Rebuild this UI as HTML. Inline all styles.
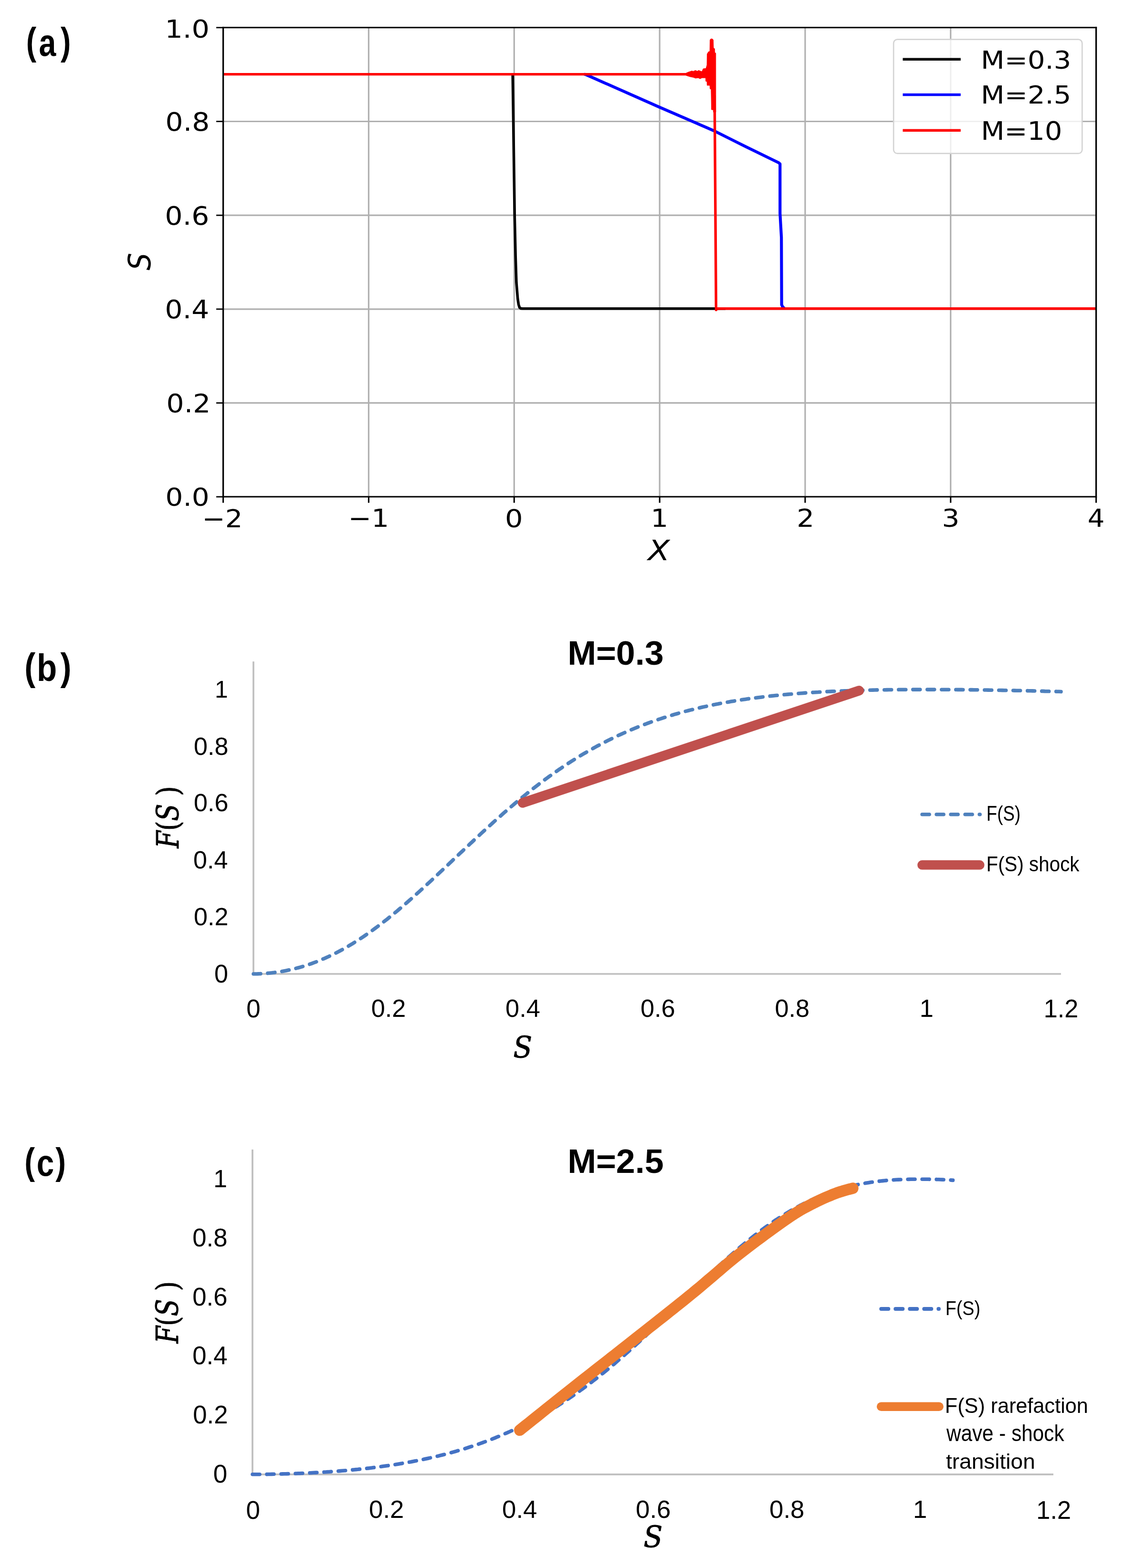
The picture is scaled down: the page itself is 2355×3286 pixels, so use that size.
<!DOCTYPE html><html><head><meta charset="utf-8"><title>Figure</title><style>html,body{margin:0;padding:0;background:#fff}svg{display:block}</style></head><body><svg width="2355" height="3286" viewBox="0 0 2355 3286">
<rect width="2355" height="3286" fill="#fff"/>
<line x1="772.43" y1="57.85" x2="772.43" y2="1041.1" stroke="#b0b0b0" stroke-width="3.2"/><line x1="1077.27" y1="57.85" x2="1077.27" y2="1041.1" stroke="#b0b0b0" stroke-width="3.2"/><line x1="1382.10" y1="57.85" x2="1382.10" y2="1041.1" stroke="#b0b0b0" stroke-width="3.2"/><line x1="1686.93" y1="57.85" x2="1686.93" y2="1041.1" stroke="#b0b0b0" stroke-width="3.2"/><line x1="1991.77" y1="57.85" x2="1991.77" y2="1041.1" stroke="#b0b0b0" stroke-width="3.2"/><line x1="467.6" y1="844.45" x2="2296.6" y2="844.45" stroke="#b0b0b0" stroke-width="3.2"/><line x1="467.6" y1="647.80" x2="2296.6" y2="647.80" stroke="#b0b0b0" stroke-width="3.2"/><line x1="467.6" y1="451.15" x2="2296.6" y2="451.15" stroke="#b0b0b0" stroke-width="3.2"/><line x1="467.6" y1="254.50" x2="2296.6" y2="254.50" stroke="#b0b0b0" stroke-width="3.2"/>
<path d="M1074.2,156.6 L1075.1,220.0 L1077.8,420.0 L1078.2,450.7 L1080.1,535.0 L1081.9,592.0 L1084.7,626.0 L1086.5,638.0 L1088.5,644.3 L1091.0,646.4 L1095.0,646.8 L1520.0,646.8" fill="none" stroke="#000" stroke-width="5.6" stroke-linejoin="round"/>
<path d="M1224.0,155.6 L1228.0,156.6 L1236.0,160.2 L1381.2,224.3 L1495.4,273.8 L1564.3,308.3 L1631.5,341.0 L1634.3,343.5 L1634.3,447.4 L1637.2,497.7 L1637.7,638.4 L1640.0,643.5 L1643.5,646.2" fill="none" stroke="#0000ff" stroke-width="6.2" stroke-linejoin="round"/>
<path d="M467.6,155.6 L1440.0,155.6" fill="none" stroke="#ff0000" stroke-width="5.2"/>
<path d="M1437.5,153.0 L1441.0,151.5 L1445.4,149.9 L1449.5,148.6 L1452.5,149.4 L1454.5,148.4 L1457.3,147.4 L1460.0,148.8 L1461.5,148.9 L1463.7,147.3 L1466.0,148.3 L1468.5,149.3 L1470.8,149.7 L1473.2,144.1 L1479.1,143.3 L1481.1,136.2 L1481.5,113.2 L1484.3,108.4 L1487.1,107.6 L1487.5,84.0 L1489.0,81.6 L1491.0,81.2 L1493.0,81.8 L1494.6,84.0 L1495.0,100.5 L1497.4,102.1 L1497.8,110.0 L1499.8,111.6 L1499.9,235.0 L1494.6,235.0 L1494.6,230.6 L1490.6,229.8 L1489.8,187.0 L1487.5,186.2 L1487.1,179.0 L1481.5,179.0 L1481.1,171.1 L1478.7,170.3 L1478.3,163.2 L1470.8,163.2 L1466.8,165.2 L1462.9,163.2 L1457.3,164.0 L1453.3,162.4 L1445.4,160.8 L1437.5,158.2 Z" fill="#ff0000" stroke="#ff0000" stroke-width="0.8" stroke-linejoin="round"/>
<path d="M1497.2,200.0 L1497.4,230.0 L1499.7,560.0 L1500.3,646.0 L1500.4,649.5 L1502.5,646.8 L2296.6,646.8" fill="none" stroke="#ff0000" stroke-width="5.4" stroke-linejoin="round"/>
<line x1="467.6" y1="57.85" x2="2296.6" y2="57.85" stroke="#000" stroke-width="3.0" stroke-linecap="square"/>
<line x1="467.6" y1="1041.1" x2="2296.6" y2="1041.1" stroke="#000" stroke-width="3.0" stroke-linecap="square"/>
<line x1="467.6" y1="57.85" x2="467.6" y2="1041.1" stroke="#000" stroke-width="3.3" stroke-linecap="square"/>
<line x1="2296.6" y1="57.85" x2="2296.6" y2="1041.1" stroke="#000" stroke-width="3.3" stroke-linecap="square"/>
<line x1="467.60" y1="1041.1" x2="467.60" y2="1053.70" stroke="#000" stroke-width="3.1"/>
<line x1="772.43" y1="1041.1" x2="772.43" y2="1053.70" stroke="#000" stroke-width="3.1"/>
<line x1="1077.27" y1="1041.1" x2="1077.27" y2="1053.70" stroke="#000" stroke-width="3.1"/>
<line x1="1382.10" y1="1041.1" x2="1382.10" y2="1053.70" stroke="#000" stroke-width="3.1"/>
<line x1="1686.93" y1="1041.1" x2="1686.93" y2="1053.70" stroke="#000" stroke-width="3.1"/>
<line x1="1991.77" y1="1041.1" x2="1991.77" y2="1053.70" stroke="#000" stroke-width="3.1"/>
<line x1="2296.60" y1="1041.1" x2="2296.60" y2="1053.70" stroke="#000" stroke-width="3.1"/>
<line x1="467.6" y1="1041.10" x2="453.10" y2="1041.10" stroke="#000" stroke-width="2.8"/>
<line x1="467.6" y1="844.45" x2="453.10" y2="844.45" stroke="#000" stroke-width="2.8"/>
<line x1="467.6" y1="647.80" x2="453.10" y2="647.80" stroke="#000" stroke-width="2.8"/>
<line x1="467.6" y1="451.15" x2="453.10" y2="451.15" stroke="#000" stroke-width="2.8"/>
<line x1="467.6" y1="254.50" x2="453.10" y2="254.50" stroke="#000" stroke-width="2.8"/>
<line x1="467.6" y1="57.85" x2="453.10" y2="57.85" stroke="#000" stroke-width="2.8"/>
<rect x="1872.2" y="82.7" width="395.1" height="239" rx="8" ry="8" fill="#fff" fill-opacity="0.8" stroke="#d4d4d4" stroke-width="2.7"/>
<line x1="1891.5" y1="124.2" x2="2012.8" y2="124.2" stroke="#000" stroke-width="5.6"/>
<line x1="1891.5" y1="198.5" x2="2012.8" y2="198.5" stroke="#0000ff" stroke-width="5.6"/>
<line x1="1891.5" y1="273.2" x2="2012.8" y2="273.2" stroke="#ff0000" stroke-width="5.6"/>
<line x1="531.00" y1="1386.30" x2="531.00" y2="2042.80" stroke="#bfbfbf" stroke-width="3.7"/><line x1="529.20" y1="2041.00" x2="2223.00" y2="2041.00" stroke="#bfbfbf" stroke-width="3.7"/><path d="M531.0,2041.0 L535.2,2041.0 L539.5,2040.9 L543.7,2040.7 L548.0,2040.5 L552.2,2040.3 L556.4,2040.0 L560.7,2039.6 L564.9,2039.2 L569.2,2038.8 L573.4,2038.3 L577.6,2037.7 L581.9,2037.1 L586.1,2036.5 L590.4,2035.8 L594.6,2035.0 L598.8,2034.2 L603.1,2033.3 L607.3,2032.4 L611.6,2031.4 L615.8,2030.4 L620.1,2029.4 L624.3,2028.2 L628.5,2027.1 L632.8,2025.8 L637.0,2024.5 L641.3,2023.2 L645.5,2021.8 L649.7,2020.4 L654.0,2018.9 L658.2,2017.3 L662.5,2015.7 L666.7,2014.0 L670.9,2012.3 L675.2,2010.5 L679.4,2008.7 L683.7,2006.8 L687.9,2004.9 L692.1,2002.9 L696.4,2000.8 L700.6,1998.7 L704.9,1996.6 L709.1,1994.4 L713.3,1992.1 L717.6,1989.8 L721.8,1987.4 L726.1,1985.0 L730.3,1982.6 L734.5,1980.0 L738.8,1977.5 L743.0,1974.8 L747.3,1972.2 L751.5,1969.4 L755.8,1966.7 L760.0,1963.8 L764.2,1961.0 L768.5,1958.0 L772.7,1955.1 L777.0,1952.1 L781.2,1949.0 L785.4,1945.9 L789.7,1942.7 L793.9,1939.6 L798.2,1936.3 L802.4,1933.1 L806.6,1929.7 L810.9,1926.4 L815.1,1923.0 L819.4,1919.6 L823.6,1916.1 L827.8,1912.6 L832.1,1909.1 L836.3,1905.5 L840.6,1901.9 L844.8,1898.3 L849.0,1894.6 L853.3,1890.9 L857.5,1887.2 L861.8,1883.4 L866.0,1879.7 L870.2,1875.9 L874.5,1872.0 L878.7,1868.2 L883.0,1864.3 L887.2,1860.5 L891.5,1856.6 L895.7,1852.6 L899.9,1848.7 L904.2,1844.8 L908.4,1840.8 L912.7,1836.8 L916.9,1832.8 L921.1,1828.8 L925.4,1824.8 L929.6,1820.8 L933.9,1816.8 L938.1,1812.8 L942.3,1808.8 L946.6,1804.7 L950.8,1800.7 L955.1,1796.7 L959.3,1792.6 L963.5,1788.6 L967.8,1784.6 L972.0,1780.6 L976.3,1776.6 L980.5,1772.6 L984.7,1768.6 L989.0,1764.6 L993.2,1760.6 L997.5,1756.6 L1001.7,1752.7 L1005.9,1748.7 L1010.2,1744.8 L1014.4,1740.9 L1018.7,1737.0 L1022.9,1733.1 L1027.2,1729.2 L1031.4,1725.4 L1035.6,1721.5 L1039.9,1717.7 L1044.1,1713.9 L1048.4,1710.2 L1052.6,1706.4 L1056.8,1702.7 L1061.1,1699.0 L1065.3,1695.3 L1069.6,1691.7 L1073.8,1688.1 L1078.0,1684.5 L1082.3,1680.9 L1086.5,1677.3 L1090.8,1673.8 L1095.0,1670.3 L1099.2,1666.9 L1103.5,1663.4 L1107.7,1660.0 L1112.0,1656.6 L1116.2,1653.3 L1120.4,1650.0 L1124.7,1646.7 L1128.9,1643.4 L1133.2,1640.2 L1137.4,1637.0 L1141.6,1633.9 L1145.9,1630.7 L1150.1,1627.7 L1154.4,1624.6 L1158.6,1621.6 L1162.8,1618.6 L1167.1,1615.6 L1171.3,1612.7 L1175.6,1609.8 L1179.8,1606.9 L1184.1,1604.1 L1188.3,1601.3 L1192.5,1598.5 L1196.8,1595.8 L1201.0,1593.1 L1205.3,1590.4 L1209.5,1587.8 L1213.7,1585.2 L1218.0,1582.6 L1222.2,1580.1 L1226.5,1577.6 L1230.7,1575.1 L1234.9,1572.7 L1239.2,1570.3 L1243.4,1567.9 L1247.7,1565.5 L1251.9,1563.2 L1256.1,1561.0 L1260.4,1558.7 L1264.6,1556.5 L1268.9,1554.3 L1273.1,1552.2 L1277.3,1550.1 L1281.6,1548.0 L1285.8,1545.9 L1290.1,1543.9 L1294.3,1541.9 L1298.5,1539.9 L1302.8,1538.0 L1307.0,1536.1 L1311.3,1534.2 L1315.5,1532.3 L1319.8,1530.5 L1324.0,1528.7 L1328.2,1527.0 L1332.5,1525.2 L1336.7,1523.5 L1341.0,1521.8 L1345.2,1520.2 L1349.4,1518.6 L1353.7,1517.0 L1357.9,1515.4 L1362.2,1513.8 L1366.4,1512.3 L1370.6,1510.8 L1374.9,1509.4 L1379.1,1507.9 L1383.4,1506.5 L1387.6,1505.1 L1391.8,1503.7 L1396.1,1502.4 L1400.3,1501.0 L1404.6,1499.7 L1408.8,1498.5 L1413.0,1497.2 L1417.3,1496.0 L1421.5,1494.8 L1425.8,1493.6 L1430.0,1492.4 L1434.2,1491.2 L1438.5,1490.1 L1442.7,1489.0 L1447.0,1487.9 L1451.2,1486.9 L1455.5,1485.8 L1459.7,1484.8 L1463.9,1483.8 L1468.2,1482.8 L1472.4,1481.8 L1476.7,1480.9 L1480.9,1480.0 L1485.1,1479.0 L1489.4,1478.1 L1493.6,1477.3 L1497.9,1476.4 L1502.1,1475.6 L1506.3,1474.7 L1510.6,1473.9 L1514.8,1473.1 L1519.1,1472.4 L1523.3,1471.6 L1527.5,1470.9 L1531.8,1470.1 L1536.0,1469.4 L1540.3,1468.7 L1544.5,1468.0 L1548.7,1467.4 L1553.0,1466.7 L1557.2,1466.1 L1561.5,1465.4 L1565.7,1464.8 L1569.9,1464.2 L1574.2,1463.6 L1578.4,1463.1 L1582.7,1462.5 L1586.9,1461.9 L1591.2,1461.4 L1595.4,1460.9 L1599.6,1460.4 L1603.9,1459.9 L1608.1,1459.4 L1612.4,1458.9 L1616.6,1458.4 L1620.8,1458.0 L1625.1,1457.5 L1629.3,1457.1 L1633.6,1456.7 L1637.8,1456.3 L1642.0,1455.9 L1646.3,1455.5 L1650.5,1455.1 L1654.8,1454.7 L1659.0,1454.4 L1663.2,1454.0 L1667.5,1453.7 L1671.7,1453.3 L1676.0,1453.0 L1680.2,1452.7 L1684.4,1452.4 L1688.7,1452.1 L1692.9,1451.8 L1697.2,1451.5 L1701.4,1451.2 L1705.6,1451.0 L1709.9,1450.7 L1714.1,1450.5 L1718.4,1450.2 L1722.6,1450.0 L1726.8,1449.7 L1731.1,1449.5 L1735.3,1449.3 L1739.6,1449.1 L1743.8,1448.9 L1748.1,1448.7 L1752.3,1448.5 L1756.5,1448.3 L1760.8,1448.2 L1765.0,1448.0 L1769.3,1447.8 L1773.5,1447.7 L1777.7,1447.5 L1782.0,1447.4 L1786.2,1447.2 L1790.5,1447.1 L1794.7,1447.0 L1798.9,1446.8 L1803.2,1446.7 L1807.4,1446.6 L1811.7,1446.5 L1815.9,1446.4 L1820.1,1446.3 L1824.4,1446.2 L1828.6,1446.1 L1832.9,1446.0 L1837.1,1445.9 L1841.3,1445.9 L1845.6,1445.8 L1849.8,1445.7 L1854.1,1445.7 L1858.3,1445.6 L1862.5,1445.5 L1866.8,1445.5 L1871.0,1445.4 L1875.3,1445.4 L1879.5,1445.4 L1883.8,1445.3 L1888.0,1445.3 L1892.2,1445.3 L1896.5,1445.2 L1900.7,1445.2 L1905.0,1445.2 L1909.2,1445.2 L1913.4,1445.1 L1917.7,1445.1 L1921.9,1445.1 L1926.2,1445.1 L1930.4,1445.1 L1934.6,1445.1 L1938.9,1445.1 L1943.1,1445.1 L1947.4,1445.1 L1951.6,1445.1 L1955.8,1445.1 L1960.1,1445.1 L1964.3,1445.1 L1968.6,1445.1 L1972.8,1445.2 L1977.0,1445.2 L1981.3,1445.2 L1985.5,1445.2 L1989.8,1445.2 L1994.0,1445.3 L1998.2,1445.3 L2002.5,1445.3 L2006.7,1445.4 L2011.0,1445.4 L2015.2,1445.4 L2019.5,1445.5 L2023.7,1445.5 L2027.9,1445.5 L2032.2,1445.6 L2036.4,1445.6 L2040.7,1445.7 L2044.9,1445.7 L2049.1,1445.8 L2053.4,1445.8 L2057.6,1445.9 L2061.9,1446.0 L2066.1,1446.0 L2070.3,1446.1 L2074.6,1446.2 L2078.8,1446.2 L2083.1,1446.3 L2087.3,1446.4 L2091.5,1446.4 L2095.8,1446.5 L2100.0,1446.6 L2104.3,1446.7 L2108.5,1446.7 L2112.7,1446.8 L2117.0,1446.9 L2121.2,1447.0 L2125.5,1447.1 L2129.7,1447.2 L2133.9,1447.3 L2138.2,1447.3 L2142.4,1447.4 L2146.7,1447.5 L2150.9,1447.6 L2155.2,1447.7 L2159.4,1447.8 L2163.6,1447.9 L2167.9,1448.0 L2172.1,1448.1 L2176.4,1448.2 L2180.6,1448.3 L2184.8,1448.4 L2189.1,1448.6 L2193.3,1448.7 L2197.6,1448.8 L2201.8,1448.9 L2206.0,1449.0 L2210.3,1449.1 L2214.5,1449.2 L2218.8,1449.3 L2223.0,1449.5" fill="none" stroke="#4f81bd" stroke-width="7.6" stroke-linecap="round" stroke-dasharray="15 15"/>
<line x1="1095" y1="1682.5" x2="1800" y2="1447.3" stroke="#c0504d" stroke-width="20.5" stroke-linecap="round"/>
<line x1="1932.1" y1="1706.8" x2="2053.2" y2="1706.8" stroke="#4f81bd" stroke-width="7.6" stroke-linecap="round" stroke-dasharray="15 15"/>
<line x1="1932.0" y1="1812.7" x2="2052.7" y2="1812.7" stroke="#c0504d" stroke-width="19.7" stroke-linecap="round"/>
<line x1="529.00" y1="2409.10" x2="529.00" y2="3091.60" stroke="#bfbfbf" stroke-width="3.7"/><line x1="527.20" y1="3089.80" x2="2207.00" y2="3089.80" stroke="#bfbfbf" stroke-width="3.7"/><path d="M529.0,3089.8 L532.7,3089.8 L536.4,3089.8 L540.0,3089.8 L543.7,3089.7 L547.4,3089.7 L551.1,3089.7 L554.7,3089.6 L558.4,3089.6 L562.1,3089.5 L565.8,3089.5 L569.5,3089.4 L573.1,3089.3 L576.8,3089.3 L580.5,3089.2 L584.2,3089.1 L587.8,3089.0 L591.5,3088.9 L595.2,3088.8 L598.9,3088.7 L602.6,3088.6 L606.2,3088.5 L609.9,3088.4 L613.6,3088.3 L617.3,3088.1 L620.9,3088.0 L624.6,3087.8 L628.3,3087.7 L632.0,3087.5 L635.7,3087.4 L639.3,3087.2 L643.0,3087.1 L646.7,3086.9 L650.4,3086.7 L654.1,3086.5 L657.7,3086.3 L661.4,3086.1 L665.1,3085.9 L668.8,3085.7 L672.4,3085.5 L676.1,3085.3 L679.8,3085.0 L683.5,3084.8 L687.2,3084.5 L690.8,3084.3 L694.5,3084.0 L698.2,3083.8 L701.9,3083.5 L705.5,3083.2 L709.2,3082.9 L712.9,3082.6 L716.6,3082.3 L720.3,3082.0 L723.9,3081.7 L727.6,3081.4 L731.3,3081.1 L735.0,3080.7 L738.6,3080.4 L742.3,3080.0 L746.0,3079.6 L749.7,3079.3 L753.4,3078.9 L757.0,3078.5 L760.7,3078.1 L764.4,3077.7 L768.1,3077.3 L771.7,3076.9 L775.4,3076.4 L779.1,3076.0 L782.8,3075.5 L786.5,3075.1 L790.1,3074.6 L793.8,3074.1 L797.5,3073.6 L801.2,3073.1 L804.8,3072.6 L808.5,3072.1 L812.2,3071.6 L815.9,3071.0 L819.6,3070.5 L823.2,3069.9 L826.9,3069.3 L830.6,3068.8 L834.3,3068.2 L838.0,3067.6 L841.6,3066.9 L845.3,3066.3 L849.0,3065.7 L852.7,3065.0 L856.3,3064.3 L860.0,3063.7 L863.7,3063.0 L867.4,3062.3 L871.1,3061.6 L874.7,3060.8 L878.4,3060.1 L882.1,3059.3 L885.8,3058.6 L889.4,3057.8 L893.1,3057.0 L896.8,3056.2 L900.5,3055.4 L904.2,3054.5 L907.8,3053.7 L911.5,3052.8 L915.2,3051.9 L918.9,3051.1 L922.5,3050.1 L926.2,3049.2 L929.9,3048.3 L933.6,3047.3 L937.3,3046.4 L940.9,3045.4 L944.6,3044.4 L948.3,3043.4 L952.0,3042.3 L955.6,3041.3 L959.3,3040.2 L963.0,3039.1 L966.7,3038.0 L970.4,3036.9 L974.0,3035.8 L977.7,3034.6 L981.4,3033.4 L985.1,3032.2 L988.7,3031.0 L992.4,3029.8 L996.1,3028.6 L999.8,3027.3 L1003.5,3026.0 L1007.1,3024.7 L1010.8,3023.4 L1014.5,3022.0 L1018.2,3020.7 L1021.8,3019.3 L1025.5,3017.9 L1029.2,3016.5 L1032.9,3015.0 L1036.6,3013.6 L1040.2,3012.1 L1043.9,3010.6 L1047.6,3009.1 L1051.3,3007.5 L1055.0,3005.9 L1058.6,3004.3 L1062.3,3002.7 L1066.0,3001.1 L1069.7,2999.4 L1073.3,2997.8 L1077.0,2996.1 L1080.7,2994.3 L1084.4,2992.6 L1088.1,2990.8 L1091.7,2989.0 L1095.4,2987.2 L1099.1,2985.4 L1102.8,2983.5 L1106.4,2981.6 L1110.1,2979.7 L1113.8,2977.8 L1117.5,2975.8 L1121.2,2973.8 L1124.8,2971.8 L1128.5,2969.8 L1132.2,2967.7 L1135.9,2965.6 L1139.5,2963.5 L1143.2,2961.4 L1146.9,2959.2 L1150.6,2957.0 L1154.3,2954.8 L1157.9,2952.6 L1161.6,2950.3 L1165.3,2948.0 L1169.0,2945.7 L1172.6,2943.4 L1176.3,2941.0 L1180.0,2938.6 L1183.7,2936.2 L1187.4,2933.8 L1191.0,2931.3 L1194.7,2928.8 L1198.4,2926.3 L1202.1,2923.8 L1205.7,2921.2 L1209.4,2918.6 L1213.1,2916.0 L1216.8,2913.3 L1220.5,2910.7 L1224.1,2908.0 L1227.8,2905.3 L1231.5,2902.5 L1235.2,2899.7 L1238.9,2896.9 L1242.5,2894.1 L1246.2,2891.3 L1249.9,2888.4 L1253.6,2885.5 L1257.2,2882.6 L1260.9,2879.7 L1264.6,2876.7 L1268.3,2873.7 L1272.0,2870.7 L1275.6,2867.7 L1279.3,2864.6 L1283.0,2861.6 L1286.7,2858.5 L1290.3,2855.3 L1294.0,2852.2 L1297.7,2849.0 L1301.4,2845.9 L1305.1,2842.6 L1308.7,2839.4 L1312.4,2836.2 L1316.1,2832.9 L1319.8,2829.6 L1323.4,2826.3 L1327.1,2823.0 L1330.8,2819.7 L1334.5,2816.3 L1338.2,2813.0 L1341.8,2809.6 L1345.5,2806.2 L1349.2,2802.8 L1352.9,2799.4 L1356.5,2795.9 L1360.2,2792.5 L1363.9,2789.0 L1367.6,2785.5 L1371.3,2782.1 L1374.9,2778.6 L1378.6,2775.1 L1382.3,2771.5 L1386.0,2768.0 L1389.6,2764.5 L1393.3,2760.9 L1397.0,2757.4 L1400.7,2753.9 L1404.4,2750.3 L1408.0,2746.7 L1411.7,2743.2 L1415.4,2739.6 L1419.1,2736.0 L1422.8,2732.5 L1426.4,2728.9 L1430.1,2725.3 L1433.8,2721.8 L1437.5,2718.2 L1441.1,2714.6 L1444.8,2711.1 L1448.5,2707.5 L1452.2,2704.0 L1455.9,2700.4 L1459.5,2696.9 L1463.2,2693.3 L1466.9,2689.8 L1470.6,2686.3 L1474.2,2682.8 L1477.9,2679.3 L1481.6,2675.8 L1485.3,2672.4 L1489.0,2668.9 L1492.6,2665.5 L1496.3,2662.0 L1500.0,2658.6 L1503.7,2655.2 L1507.3,2651.9 L1511.0,2648.5 L1514.7,2645.2 L1518.4,2641.8 L1522.1,2638.5 L1525.7,2635.3 L1529.4,2632.0 L1533.1,2628.8 L1536.8,2625.6 L1540.4,2622.4 L1544.1,2619.2 L1547.8,2616.1 L1551.5,2613.0 L1555.2,2609.9 L1558.8,2606.8 L1562.5,2603.8 L1566.2,2600.8 L1569.9,2597.8 L1573.5,2594.9 L1577.2,2591.9 L1580.9,2589.1 L1584.6,2586.2 L1588.3,2583.4 L1591.9,2580.6 L1595.6,2577.8 L1599.3,2575.1 L1603.0,2572.4 L1606.6,2569.8 L1610.3,2567.2 L1614.0,2564.6 L1617.7,2562.0 L1621.4,2559.5 L1625.0,2557.0 L1628.7,2554.6 L1632.4,2552.2 L1636.1,2549.8 L1639.8,2547.5 L1643.4,2545.2 L1647.1,2542.9 L1650.8,2540.7 L1654.5,2538.5 L1658.1,2536.4 L1661.8,2534.3 L1665.5,2532.2 L1669.2,2530.1 L1672.9,2528.2 L1676.5,2526.2 L1680.2,2524.3 L1683.9,2522.4 L1687.6,2520.6 L1691.2,2518.8 L1694.9,2517.0 L1698.6,2515.3 L1702.3,2513.6 L1706.0,2511.9 L1709.6,2510.3 L1713.3,2508.7 L1717.0,2507.2 L1720.7,2505.7 L1724.3,2504.2 L1728.0,2502.8 L1731.7,2501.4 L1735.4,2500.1 L1739.1,2498.7 L1742.7,2497.5 L1746.4,2496.2 L1750.1,2495.0 L1753.8,2493.8 L1757.4,2492.7 L1761.1,2491.6 L1764.8,2490.5 L1768.5,2489.5 L1772.2,2488.5 L1775.8,2487.5 L1779.5,2486.6 L1783.2,2485.7 L1786.9,2484.8 L1790.5,2484.0 L1794.2,2483.2 L1797.9,2482.4 L1801.6,2481.7 L1805.3,2480.9 L1808.9,2480.3 L1812.6,2479.6 L1816.3,2479.0 L1820.0,2478.4 L1823.7,2477.8 L1827.3,2477.3 L1831.0,2476.8 L1834.7,2476.3 L1838.4,2475.8 L1842.0,2475.4 L1845.7,2475.0 L1849.4,2474.6 L1853.1,2474.2 L1856.8,2473.9 L1860.4,2473.6 L1864.1,2473.3 L1867.8,2473.0 L1871.5,2472.8 L1875.1,2472.5 L1878.8,2472.3 L1882.5,2472.1 L1886.2,2472.0 L1889.9,2471.8 L1893.5,2471.7 L1897.2,2471.6 L1900.9,2471.5 L1904.6,2471.4 L1908.2,2471.3 L1911.9,2471.3 L1915.6,2471.2 L1919.3,2471.2 L1923.0,2471.2 L1926.6,2471.2 L1930.3,2471.2 L1934.0,2471.2 L1937.7,2471.2 L1941.3,2471.3 L1945.0,2471.3 L1948.7,2471.4 L1952.4,2471.4 L1956.1,2471.5 L1959.7,2471.6 L1963.4,2471.7 L1967.1,2471.8 L1970.8,2472.0 L1974.4,2472.1 L1978.1,2472.3 L1981.8,2472.5 L1985.5,2472.7 L1989.2,2472.9 L1992.8,2473.1 L1996.5,2473.4" fill="none" stroke="#4472c4" stroke-width="7.6" stroke-linecap="round" stroke-dasharray="15 15"/>
<path d="M1088.9,2997.2 L1094.1,2993.0 L1100.5,2987.9 L1108.0,2982.0 L1116.3,2975.3 L1125.3,2968.1 L1135.1,2960.3 L1145.3,2952.1 L1156.0,2943.6 L1166.9,2934.9 L1177.9,2926.1 L1189.0,2917.3 L1200.0,2908.6 L1211.3,2899.7 L1223.3,2890.2 L1235.9,2880.2 L1249.0,2870.0 L1262.3,2859.5 L1275.7,2849.0 L1289.1,2838.5 L1302.3,2828.1 L1315.1,2818.0 L1327.4,2808.3 L1339.1,2799.1 L1350.0,2790.5 L1360.1,2782.5 L1369.6,2775.1 L1378.5,2768.0 L1387.0,2761.3 L1395.2,2754.8 L1403.1,2748.5 L1410.9,2742.4 L1418.5,2736.3 L1426.2,2730.2 L1433.9,2724.0 L1441.8,2717.6 L1450.0,2710.9 L1458.3,2704.0 L1466.7,2697.1 L1475.0,2690.0 L1483.3,2682.9 L1491.7,2675.8 L1500.0,2668.7 L1508.3,2661.6 L1516.7,2654.5 L1525.0,2647.5 L1533.3,2640.6 L1541.7,2633.8 L1550.0,2627.2 L1558.5,2620.6 L1567.2,2613.8 L1576.2,2607.0 L1585.2,2600.3 L1594.2,2593.6 L1603.1,2587.0 L1611.9,2580.6 L1620.4,2574.4 L1628.5,2568.6 L1636.2,2563.1 L1643.4,2558.1 L1650.0,2553.5 L1655.9,2549.5 L1661.2,2545.9 L1666.0,2542.8 L1670.4,2540.1 L1674.4,2537.6 L1678.1,2535.5 L1681.7,2533.4 L1685.2,2531.5 L1688.7,2529.7 L1692.2,2527.8 L1696.0,2525.9 L1700.0,2523.8 L1704.2,2521.6 L1708.5,2519.5 L1712.8,2517.4 L1717.2,2515.3 L1721.5,2513.3 L1725.8,2511.3 L1730.1,2509.4 L1734.3,2507.6 L1738.4,2505.9 L1742.4,2504.2 L1746.3,2502.7 L1750.0,2501.2 L1753.6,2499.8 L1757.3,2498.6 L1761.0,2497.4 L1764.6,2496.3 L1768.1,2495.2 L1771.5,2494.3 L1774.7,2493.4 L1777.7,2492.6 L1780.5,2491.9 L1782.9,2491.3 L1785.1,2490.7 L1786.8,2490.2" fill="none" stroke="#ed7d31" stroke-width="23.8" stroke-linecap="round" stroke-linejoin="round"/>
<line x1="1846.3" y1="2743.1" x2="1967.0" y2="2743.1" stroke="#4472c4" stroke-width="8" stroke-linecap="round" stroke-dasharray="15 15"/>
<line x1="1846.2" y1="2947.7" x2="1967.6" y2="2947.7" stroke="#ed7d31" stroke-width="18.5" stroke-linecap="round"/>
<g transform="translate(54.73,113.60) scale(0.80480,0.99431)"><text font-family="'Liberation Sans', Arial, sans-serif" font-size="80" font-weight="bold" fill="#000"><tspan x="0.00" y="0.00">(</tspan><tspan x="33.13" y="3.65">a</tspan><tspan x="89.75" y="0.00">)</tspan></text></g>
<g transform="translate(345.49,78.73) scale(1.14577,1.02015)"><text x="0" y="0" font-family="'DejaVu Sans', sans-serif" font-size="51.3" font-style="normal" font-weight="normal" fill="#000">1.0</text></g>
<g transform="translate(346.53,1060.21) scale(1.12972,1.02039)"><text x="0" y="0" font-family="'DejaVu Sans', sans-serif" font-size="51.3" font-style="normal" font-weight="normal" fill="#000">0.0</text></g>
<g transform="translate(423.64,1104.60) scale(1.12074,1.02177)"><text x="0" y="0" font-family="'DejaVu Sans', sans-serif" font-size="51.3" font-style="normal" font-weight="normal" fill="#000">−2</text></g>
<g transform="translate(1057.94,1104.75) scale(1.15168,1.00461)"><text x="0" y="0" font-family="'DejaVu Sans', sans-serif" font-size="51.3" font-style="normal" font-weight="normal" fill="#000">0</text></g>
<g transform="translate(2278.73,1103.53) scale(1.09364,1.00175)"><text x="0" y="0" font-family="'DejaVu Sans', sans-serif" font-size="51.3" font-style="normal" font-weight="normal" fill="#000">4</text></g>
<g transform="translate(1357.48,1174.13) scale(1.15347,1.02311)"><text x="0" y="0" font-family="'DejaVu Sans', sans-serif" font-size="58" font-style="oblique" font-weight="normal" fill="#000">X</text></g>
<g transform="translate(315.15,566.56) scale(1.11675,0.99707) rotate(-90)"><text x="0" y="0" font-family="'DejaVu Sans', sans-serif" font-size="58" font-style="oblique" font-weight="normal" fill="#000">S</text></g>
<g transform="translate(2055.11,143.73) scale(1.12786,1.01425)"><text x="0" y="0" font-family="'DejaVu Sans', sans-serif" font-size="51" font-style="normal" font-weight="normal" fill="#000">M=0.3</text></g>
<g transform="translate(2055.11,216.68) scale(1.12786,1.02524)"><text x="0" y="0" font-family="'DejaVu Sans', sans-serif" font-size="51" font-style="normal" font-weight="normal" fill="#000">M=2.5</text></g>
<g transform="translate(2055.13,292.67) scale(1.12285,1.06246)"><text x="0" y="0" font-family="'DejaVu Sans', sans-serif" font-size="51" font-style="normal" font-weight="normal" fill="#000">M=10</text></g>
<g transform="translate(51.35,1424.67) scale(0.86485,0.99328)"><text font-family="'Liberation Sans', Arial, sans-serif" font-size="80" font-weight="bold" fill="#000"><tspan x="0.00" y="0.00">(</tspan><tspan x="29.74" y="2.61">b</tspan><tspan x="87.03" y="0.00">)</tspan></text></g>
<g transform="translate(1189.21,1392.54) scale(1.07036,1.05225)"><text x="0" y="0" font-family="'Liberation Sans', Arial, sans-serif" font-size="67" font-style="normal" font-weight="bold" fill="#000">M=0.3</text></g>
<g transform="translate(449.97,1461.70) scale(0.99317,1.01755)"><text x="0" y="0" font-family="'Liberation Sans', Arial, sans-serif" font-size="50" font-style="normal" font-weight="normal" fill="#000">1</text></g>
<g transform="translate(448.92,2058.67) scale(1.04167,1.07517)"><text x="0" y="0" font-family="'Liberation Sans', Arial, sans-serif" font-size="50" font-style="normal" font-weight="normal" fill="#000">0</text></g>
<g transform="translate(516.36,2131.67) scale(1.05917,1.05853)"><text x="0" y="0" font-family="'Liberation Sans', Arial, sans-serif" font-size="50" font-style="normal" font-weight="normal" fill="#000">0</text></g>
<g transform="translate(2186.80,2132.15) scale(1.04503,1.07517)"><text x="0" y="0" font-family="'Liberation Sans', Arial, sans-serif" font-size="50" font-style="normal" font-weight="normal" fill="#000">1.2</text></g>
<g transform="translate(374.41,1777.51) scale(1.03549,0.84677) rotate(-90)"><text x="0" y="0" font-family="'DejaVu Serif', serif" font-size="62" font-style="normal" font-weight="normal" fill="#000" stroke="#000" stroke-width="1.0" stroke-linejoin="round"><tspan font-style="italic">F</tspan>(<tspan font-style="italic">S</tspan> )</text></g>
<g transform="translate(1075.48,2215.79) scale(0.92948,1.00174)"><text x="0" y="0" font-family="'DejaVu Serif', serif" font-size="62" font-style="italic" font-weight="normal" fill="#000" stroke="#000" stroke-width="1.0" stroke-linejoin="round">S</text></g>
<g transform="translate(2066.83,1719.79) scale(0.89540,1.07895)"><text x="0" y="0" font-family="'Liberation Sans', Arial, sans-serif" font-size="41" font-style="normal" font-weight="normal" fill="#000">F(S)</text></g>
<g transform="translate(2066.55,1825.94) scale(0.98357,1.06627)"><text x="0" y="0" font-family="'Liberation Sans', Arial, sans-serif" font-size="41" font-style="normal" font-weight="normal" fill="#000">F(S) shock</text></g>
<g transform="translate(51.35,2461.20) scale(0.82080,0.98336)"><text font-family="'Liberation Sans', Arial, sans-serif" font-size="80" font-weight="bold" fill="#000"><tspan x="0.00" y="0.00">(</tspan><tspan x="30.95" y="2.75">c</tspan><tspan x="79.06" y="0.00">)</tspan></text></g>
<g transform="translate(1189.21,2458.05) scale(1.07036,1.06218)"><text x="0" y="0" font-family="'Liberation Sans', Arial, sans-serif" font-size="67" font-style="normal" font-weight="bold" fill="#000">M=2.5</text></g>
<g transform="translate(447.30,2487.69) scale(1.03206,1.05225)"><text x="0" y="0" font-family="'Liberation Sans', Arial, sans-serif" font-size="50" font-style="normal" font-weight="normal" fill="#000">1</text></g>
<g transform="translate(446.85,3106.69) scale(1.06087,1.07517)"><text x="0" y="0" font-family="'Liberation Sans', Arial, sans-serif" font-size="50" font-style="normal" font-weight="normal" fill="#000">0</text></g>
<g transform="translate(515.39,3182.63) scale(1.05917,1.05714)"><text x="0" y="0" font-family="'Liberation Sans', Arial, sans-serif" font-size="50" font-style="normal" font-weight="normal" fill="#000">0</text></g>
<g transform="translate(2171.30,3182.70) scale(1.04803,1.05853)"><text x="0" y="0" font-family="'Liberation Sans', Arial, sans-serif" font-size="50" font-style="normal" font-weight="normal" fill="#000">1.2</text></g>
<g transform="translate(372.57,2815.15) scale(1.02471,0.84667) rotate(-90)"><text x="0" y="0" font-family="'DejaVu Serif', serif" font-size="62" font-style="normal" font-weight="normal" fill="#000" stroke="#000" stroke-width="1.0" stroke-linejoin="round"><tspan font-style="italic">F</tspan>(<tspan font-style="italic">S</tspan> )</text></g>
<g transform="translate(1348.48,3241.87) scale(0.93439,0.98310)"><text x="0" y="0" font-family="'DejaVu Serif', serif" font-size="62" font-style="italic" font-weight="normal" fill="#000" stroke="#000" stroke-width="1.0" stroke-linejoin="round">S</text></g>
<g transform="translate(1980.72,2755.56) scale(0.91971,1.05263)"><text x="0" y="0" font-family="'Liberation Sans', Arial, sans-serif" font-size="41" font-style="normal" font-weight="normal" fill="#000">F(S)</text></g>
<g transform="translate(1979.82,2960.89) scale(1.05380,1.07695)"><text x="0" y="0" font-family="'Liberation Sans', Arial, sans-serif" font-size="41" font-style="normal" font-weight="normal" fill="#000">F(S) rarefaction</text></g>
<g transform="translate(1982.98,3020.25) scale(1.03103,1.15183)"><text x="0" y="0" font-family="'Liberation Sans', Arial, sans-serif" font-size="41" font-style="normal" font-weight="normal" fill="#000">wave - shock</text></g>
<g transform="translate(1981.90,3078.43) scale(1.12396,1.06855)"><text x="0" y="0" font-family="'Liberation Sans', Arial, sans-serif" font-size="41" font-style="normal" font-weight="normal" fill="#000">transition</text></g>
<g transform="translate(348.60,863.60) scale(1.13500,1.03500)"><text x="0" y="0" font-family="'DejaVu Sans', sans-serif" font-size="51.3" font-style="normal" font-weight="normal" fill="#000">0.2</text></g>
<g transform="translate(345.60,666.80) scale(1.13500,1.03500)"><text x="0" y="0" font-family="'DejaVu Sans', sans-serif" font-size="51.3" font-style="normal" font-weight="normal" fill="#000">0.4</text></g>
<g transform="translate(345.60,471.00) scale(1.13500,1.03500)"><text x="0" y="0" font-family="'DejaVu Sans', sans-serif" font-size="51.3" font-style="normal" font-weight="normal" fill="#000">0.6</text></g>
<g transform="translate(346.60,274.20) scale(1.13500,1.03500)"><text x="0" y="0" font-family="'DejaVu Sans', sans-serif" font-size="51.3" font-style="normal" font-weight="normal" fill="#000">0.8</text></g>
<g transform="translate(729.72,1104.00) scale(1.13000,1.02000)"><text x="0" y="0" font-family="'DejaVu Sans', sans-serif" font-size="51.3" font-style="normal" font-weight="normal" fill="#000">−1</text></g>
<g transform="translate(1363.36,1104.00) scale(1.13000,1.02000)"><text x="0" y="0" font-family="'DejaVu Sans', sans-serif" font-size="51.3" font-style="normal" font-weight="normal" fill="#000">1</text></g>
<g transform="translate(1669.18,1104.00) scale(1.13000,1.02000)"><text x="0" y="0" font-family="'DejaVu Sans', sans-serif" font-size="51.3" font-style="normal" font-weight="normal" fill="#000">2</text></g>
<g transform="translate(1973.50,1104.00) scale(1.13000,1.02000)"><text x="0" y="0" font-family="'DejaVu Sans', sans-serif" font-size="51.3" font-style="normal" font-weight="normal" fill="#000">3</text></g>
<g transform="translate(406.00,1938.68) scale(1.04200,1.05000)"><text x="0" y="0" font-family="'Liberation Sans', Arial, sans-serif" font-size="50" font-style="normal" font-weight="normal" fill="#000">0.2</text></g>
<g transform="translate(405.00,1819.96) scale(1.04200,1.05000)"><text x="0" y="0" font-family="'Liberation Sans', Arial, sans-serif" font-size="50" font-style="normal" font-weight="normal" fill="#000">0.4</text></g>
<g transform="translate(406.00,1700.24) scale(1.04200,1.05000)"><text x="0" y="0" font-family="'Liberation Sans', Arial, sans-serif" font-size="50" font-style="normal" font-weight="normal" fill="#000">0.6</text></g>
<g transform="translate(406.00,1581.52) scale(1.04200,1.05000)"><text x="0" y="0" font-family="'Liberation Sans', Arial, sans-serif" font-size="50" font-style="normal" font-weight="normal" fill="#000">0.8</text></g>
<g transform="translate(777.70,2131.40) scale(1.04500,1.05000)"><text x="0" y="0" font-family="'Liberation Sans', Arial, sans-serif" font-size="50" font-style="normal" font-weight="normal" fill="#000">0.2</text></g>
<g transform="translate(1059.10,2131.40) scale(1.04500,1.05000)"><text x="0" y="0" font-family="'Liberation Sans', Arial, sans-serif" font-size="50" font-style="normal" font-weight="normal" fill="#000">0.4</text></g>
<g transform="translate(1342.00,2131.40) scale(1.04500,1.05000)"><text x="0" y="0" font-family="'Liberation Sans', Arial, sans-serif" font-size="50" font-style="normal" font-weight="normal" fill="#000">0.6</text></g>
<g transform="translate(1623.40,2131.40) scale(1.04500,1.05000)"><text x="0" y="0" font-family="'Liberation Sans', Arial, sans-serif" font-size="50" font-style="normal" font-weight="normal" fill="#000">0.8</text></g>
<g transform="translate(1926.80,2131.40) scale(1.04500,1.05000)"><text x="0" y="0" font-family="'Liberation Sans', Arial, sans-serif" font-size="50" font-style="normal" font-weight="normal" fill="#000">1</text></g>
<g transform="translate(404.20,2983.18) scale(1.05400,1.06000)"><text x="0" y="0" font-family="'Liberation Sans', Arial, sans-serif" font-size="50" font-style="normal" font-weight="normal" fill="#000">0.2</text></g>
<g transform="translate(403.20,2859.26) scale(1.05400,1.06000)"><text x="0" y="0" font-family="'Liberation Sans', Arial, sans-serif" font-size="50" font-style="normal" font-weight="normal" fill="#000">0.4</text></g>
<g transform="translate(403.20,2736.34) scale(1.05400,1.06000)"><text x="0" y="0" font-family="'Liberation Sans', Arial, sans-serif" font-size="50" font-style="normal" font-weight="normal" fill="#000">0.6</text></g>
<g transform="translate(403.20,2612.42) scale(1.05400,1.06000)"><text x="0" y="0" font-family="'Liberation Sans', Arial, sans-serif" font-size="50" font-style="normal" font-weight="normal" fill="#000">0.8</text></g>
<g transform="translate(773.10,3181.40) scale(1.05500,1.05000)"><text x="0" y="0" font-family="'Liberation Sans', Arial, sans-serif" font-size="50" font-style="normal" font-weight="normal" fill="#000">0.2</text></g>
<g transform="translate(1052.10,3181.40) scale(1.05500,1.05000)"><text x="0" y="0" font-family="'Liberation Sans', Arial, sans-serif" font-size="50" font-style="normal" font-weight="normal" fill="#000">0.4</text></g>
<g transform="translate(1332.10,3181.40) scale(1.05500,1.05000)"><text x="0" y="0" font-family="'Liberation Sans', Arial, sans-serif" font-size="50" font-style="normal" font-weight="normal" fill="#000">0.6</text></g>
<g transform="translate(1612.10,3181.40) scale(1.05500,1.05000)"><text x="0" y="0" font-family="'Liberation Sans', Arial, sans-serif" font-size="50" font-style="normal" font-weight="normal" fill="#000">0.8</text></g>
<g transform="translate(1913.10,3181.40) scale(1.05500,1.05000)"><text x="0" y="0" font-family="'Liberation Sans', Arial, sans-serif" font-size="50" font-style="normal" font-weight="normal" fill="#000">1</text></g>
</svg></body></html>
